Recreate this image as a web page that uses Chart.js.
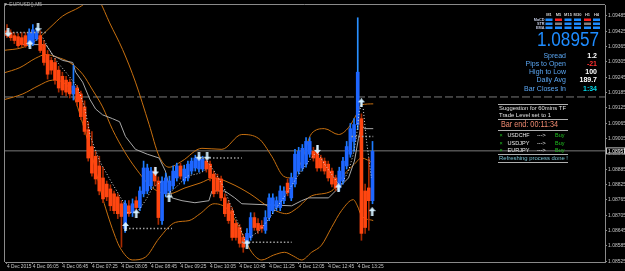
<!DOCTYPE html>
<html>
<head>
<meta charset="utf-8">
<title>EURUSD M5</title>
<script src="https://cdn.jsdelivr.net/npm/chart.js@4.4.1/dist/chart.umd.min.js"></script>
<style>
  html, body { margin: 0; padding: 0; background: #000; }
  #wrap { width: 625px; height: 271px; }
</style>
</head>
<body>
<div id="wrap"><canvas id="chart" width="625" height="271"></canvas></div>
<script>
// ── DATA ─────────────────────────────────────────────
// 100 M5 candles, 05:30 .. 13:45 (bar index = position on x axis)
const opens = [
  1.09427,1.09420,1.09408,1.09404,1.09400,1.09408,1.09373,1.09377,1.09396,1.09408,
  1.09373,1.09334,1.09311,1.09303,1.09273,1.09249,1.09234,1.09226,1.09180,1.09203,
  1.09180,1.09129,1.09040,1.08974,1.08936,1.08898,1.08851,1.08827,1.08808,1.08789,
  1.08777,1.08750,1.08653,1.08742,1.08715,1.08762,1.08735,1.08789,1.08800,1.08820,
  1.08878,1.08839,1.08684,1.08789,1.08800,1.08820,1.08851,1.08898,1.08839,1.08851,
  1.08878,1.08890,1.08886,1.08886,1.08917,1.08905,1.08866,1.08851,1.08847,1.08773,
  1.08750,1.08723,1.08673,1.08657,1.08618,1.08595,1.08618,1.08696,1.08673,1.08665,
  1.08646,1.08696,1.08723,1.08735,1.08735,1.08762,1.08831,1.08773,1.08827,1.08878,
  1.08890,1.08905,1.08944,1.08955,1.08955,1.08929,1.08917,1.08905,1.08878,1.08851,
  1.08812,1.08839,1.08898,1.08944,1.08994,1.09060,1.09083,1.08800,1.08812,1.08762
];
const highs = [
  1.09451,1.09431,1.09420,1.09416,1.09420,1.09420,1.09435,1.09451,1.09439,1.09427,
  1.09389,1.09350,1.09323,1.09319,1.09288,1.09265,1.09249,1.09238,1.09292,1.09214,
  1.09191,1.09153,1.09071,1.09033,1.08955,1.08936,1.08893,1.08839,1.08824,1.08800,
  1.08789,1.08762,1.08762,1.08762,1.08769,1.08777,1.08816,1.08917,1.08905,1.08893,
  1.08893,1.08855,1.08855,1.08870,1.08858,1.08898,1.08909,1.08909,1.08901,1.08917,
  1.08929,1.08940,1.08940,1.08936,1.08929,1.08917,1.08878,1.08866,1.08858,1.08789,
  1.08762,1.08735,1.08684,1.08669,1.08630,1.08653,1.08715,1.08715,1.08692,1.08684,
  1.08723,1.08789,1.08789,1.08777,1.08820,1.08816,1.08847,1.08870,1.08963,1.08971,
  1.08982,1.09009,1.09009,1.08971,1.08967,1.08940,1.08929,1.08917,1.08890,1.08862,
  1.08893,1.08932,1.08994,1.09064,1.09083,1.09478,1.09102,1.08827,1.08929,1.08994
];
const lows = [
  1.09400,1.09389,1.09377,1.09362,1.09365,1.09362,1.09365,1.09369,1.09389,1.09342,
  1.09292,1.09238,1.09257,1.09218,1.09187,1.09176,1.09172,1.09164,1.09156,1.09133,
  1.09079,1.09021,1.08917,1.08858,1.08827,1.08785,1.08754,1.08762,1.08723,1.08711,
  1.08692,1.08580,1.08638,1.08700,1.08700,1.08723,1.08723,1.08777,1.08789,1.08808,
  1.08820,1.08669,1.08669,1.08777,1.08789,1.08808,1.08839,1.08847,1.08827,1.08839,
  1.08866,1.08878,1.08874,1.08878,1.08874,1.08839,1.08777,1.08789,1.08762,1.08700,
  1.08673,1.08607,1.08607,1.08580,1.08560,1.08584,1.08607,1.08646,1.08634,1.08638,
  1.08634,1.08684,1.08711,1.08723,1.08723,1.08750,1.08781,1.08762,1.08816,1.08866,
  1.08878,1.08893,1.08932,1.08917,1.08878,1.08878,1.08866,1.08839,1.08816,1.08800,
  1.08800,1.08827,1.08886,1.08932,1.08955,1.09040,1.08607,1.08634,1.08646,1.08750
];
const closes = [
  1.09408,1.09400,1.09389,1.09369,1.09373,1.09369,1.09420,1.09431,1.09423,1.09350,
  1.09303,1.09257,1.09273,1.09234,1.09203,1.09195,1.09187,1.09180,1.09211,1.09149,
  1.09091,1.09033,1.08929,1.08870,1.08847,1.08800,1.08769,1.08777,1.08742,1.08723,
  1.08711,1.08700,1.08750,1.08711,1.08750,1.08735,1.08800,1.08890,1.08890,1.08878,
  1.08839,1.08696,1.08839,1.08851,1.08839,1.08878,1.08898,1.08858,1.08886,1.08905,
  1.08917,1.08929,1.08929,1.08925,1.08886,1.08851,1.08789,1.08800,1.08773,1.08711,
  1.08684,1.08618,1.08618,1.08595,1.08580,1.08634,1.08696,1.08657,1.08646,1.08653,
  1.08696,1.08773,1.08773,1.08762,1.08800,1.08800,1.08793,1.08851,1.08944,1.08955,
  1.08967,1.08994,1.08994,1.08929,1.08890,1.08890,1.08878,1.08851,1.08827,1.08812,
  1.08878,1.08917,1.08974,1.09044,1.09060,1.09265,1.08634,1.08657,1.08762,1.08955
];

// indicator lines, [bar index, price]
const upperBand = [[-1.1,1.09350],[4.3,1.09362],[7.8,1.09389],[11.6,1.09439],[15.1,1.09485],[19.7,1.09520],
  [21.8,1.09543],[23.5,1.09574],[25.1,1.09543],[27.8,1.09458],[31.3,1.09354],[34.8,1.09226],[38.5,1.09060],
  [41.2,1.08936],[43.9,1.08893],[47.4,1.08917],[52.8,1.08967],[58.2,1.08963],[63.6,1.09021],[68.2,1.09005],
  [71.7,1.08936],[74.9,1.08858],[77.1,1.08851],[79.8,1.08917],[82.5,1.09025],[86.0,1.09044],[89.8,1.09021],
  [92.5,1.09048],[94.6,1.09098],[96.0,1.09137],[99.2,1.09141]];
const middleBand = [[-1.1,1.09261],[3.5,1.09283],[7.8,1.09320],[10.5,1.09334],[13.7,1.09323],[17.0,1.09303],
  [20.5,1.09257],[23.2,1.09195],[25.9,1.09129],[28.6,1.09040],[31.8,1.08955],[34.8,1.08890],[39.4,1.08812],
  [43.9,1.08789],[48.2,1.08812],[52.3,1.08831],[56.1,1.08851],[60.4,1.08831],[65.8,1.08789],[71.2,1.08735],
  [75.7,1.08711],[78.4,1.08731],[82.5,1.08781],[87.9,1.08800],[91.4,1.08866],[94.1,1.08905],[96.0,1.08929],
  [99.2,1.08909]];
const lowerBand = [[-1.1,1.09156],[4.3,1.09180],[8.4,1.09211],[12.4,1.09234],[15.1,1.09226],[17.8,1.09180],
  [20.5,1.09064],[23.2,1.08929],[25.9,1.08773],[29.4,1.08618],[30.7,1.08576],[34.0,1.08530],[37.5,1.08541],
  [41.2,1.08615],[45.6,1.08677],[49.3,1.08684],[52.3,1.08711],[56.1,1.08750],[59.6,1.08731],[62.3,1.08673],
  [64.2,1.08618],[66.3,1.08560],[69.0,1.08530],[72.2,1.08549],[75.2,1.08560],[77.6,1.08545],[79.8,1.08530],
  [82.5,1.08560],[85.2,1.08588],[87.9,1.08657],[90.6,1.08723],[93.8,1.08766],[94.9,1.08742],[96.0,1.08704],
  [99.2,1.08684]];
const grayLine = [[4.3,1.09373],[10.5,1.09373],[11.6,1.09350],[12.4,1.09331],[15.1,1.09311],[17.8,1.09303],
  [18.6,1.09265],[20.5,1.09226],[22.4,1.09160],[24.0,1.09121],[25.9,1.09098],[28.6,1.09083],[30.5,1.09071],
  [32.1,1.09013],[34.8,1.08963],[38.0,1.08944],[41.2,1.08929],[42.9,1.08878],[44.7,1.08773],[47.4,1.08762],
  [50.9,1.08754],[54.7,1.08762],[55.5,1.08800],[59.0,1.08800],[61.7,1.08773],[63.6,1.08750],[77.1,1.08742],
  [79.8,1.08762],[81.7,1.08773],[87.1,1.08773],[89.8,1.08812],[92.5,1.08851],[94.1,1.08917],[95.2,1.09005],
  [96.0,1.09060],[96.8,1.09044],[99.2,1.09044]];
const sarSegments = [
  [[9.7,1.09400],[11.1,1.09362],[13.7,1.09303],[16.4,1.09257],[19.1,1.09207],[21.0,1.09129],[22.6,1.09013],
   [25.1,1.08917],[27.8,1.08847],[30.5,1.08781],[31.8,1.08750]],
  [[32.6,1.08715],[35.3,1.08719],[37.5,1.08762],[39.4,1.08812],[42.0,1.08839]],
  [[42.9,1.08781],[45.6,1.08812],[48.8,1.08858],[52.3,1.08870],[54.2,1.08886]],
  [[54.2,1.08917],[56.1,1.08878],[58.8,1.08812],[60.4,1.08750],[63.1,1.08657],[64.4,1.08607]],
  [[65.8,1.08618],[68.5,1.08646],[71.2,1.08696],[73.0,1.08735],[75.7,1.08789],[78.4,1.08851],[81.1,1.08905],[83.3,1.08944]],
  [[84.4,1.08944],[86.0,1.08905],[87.9,1.08866],[89.8,1.08827]],
  [[90.6,1.08827],[92.5,1.08878],[93.8,1.08944],[94.6,1.09005],[95.4,1.09110],[96.0,1.09137]],
  [[96.5,1.09121],[97.3,1.09005],[98.1,1.08917],[98.7,1.08851]]
];
const arrowsUp = [[6.2,1.09373],[32.1,1.08661],[35.0,1.08711],[43.9,1.08773],[65.0,1.08592],[89.8,1.08812],[96.0,1.09145],[98.9,1.08719]];
const arrowsDown = [[0.3,1.09420],[8.4,1.09439],[40.2,1.08878],[52.0,1.08936],[54.2,1.08936],[84.1,1.08963]];
// [from bar, to bar, price]
const levelMarks = [[-0.3,10.5,1.09420],[32.1,44.7,1.08653],[52.0,63.6,1.08929],[63.6,77.1,1.08599],[93.3,99.2,1.09013]];

const priceNow = 1.08957;
const dashLevel = 1.09168;

const xTickIdx = [0,7,15,23,31,39,47,55,63,71,79,87,95];
const xTickLabels = ['4 Dec 2015','4 Dec 06:05','4 Dec 06:45','4 Dec 07:25','4 Dec 08:05','4 Dec 08:45',
  '4 Dec 09:25','4 Dec 10:05','4 Dec 10:45','4 Dec 11:25','4 Dec 12:05','4 Dec 12:45','4 Dec 13:25'];
const yTicks = [1.08525,1.08585,1.08645,1.08705,1.08765,1.08825,1.08885,1.08945,1.09005,
  1.09065,1.09125,1.09185,1.09245,1.09305,1.09365,1.09425,1.09485];

// panel texts
const tfNames = ['M1','M5','M15','M30','H1','H4'];
const tfRows = ['MaCD','STR','EMA'];
const tfState = [['u','d','u','u','d','u'], ['u','n','u','u','n','u'], ['u','u','u','u','u','u']];
const infoLabels = ['Spread','Pips to Open','High to Low','Daily Avg','Bar Closes In'];
const infoValues = ['1.2','-21','100','189.7','1:34'];
const pairs = ['USDCHF','USDJPY','EURJPY'];
const pairSignals = ['Buy','Buy','Buy'];

// ── STYLE ────────────────────────────────────────────
const FONT = "'Liberation Sans', Arial, sans-serif";
const AXIS = '#8a8a8a';
const BULL = '#1e66ff', BEAR = '#ff4610';
const BULL_WICK = '#1e7cff', BEAR_WICK = '#a82a00';
const BAND = '#c8700f';

const pts = arr => arr.map(p => ({ x: p[0], y: p[1] }));

function arrowImg(up) {
  const c = document.createElement('canvas');
  c.width = 7; c.height = 9;
  const g = c.getContext('2d');
  g.fillStyle = '#d4f0ff';
  g.beginPath();
  const P = up
    ? [[3.5,0],[7,4],[4.7,4],[4.7,9],[2.3,9],[2.3,4],[0,4]]
    : [[3.5,9],[7,5],[4.7,5],[4.7,0],[2.3,0],[2.3,5],[0,5]];
  g.moveTo(P[0][0], P[0][1]);
  P.slice(1).forEach(p => g.lineTo(p[0], p[1]));
  g.closePath(); g.fill();
  return c;
}

const idx = opens.map((_, i) => i);
const wickData = idx.map(i => ({ x: i, y: [lows[i], highs[i]] }));
const bodyData = idx.map(i => ({ x: i, y: [opens[i], closes[i]] }));
const isBull = i => closes[i] >= opens[i];

const sarData = sarSegments.flatMap(s => [...pts(s), { x: s[s.length - 1][0] + 0.01, y: null }]);
const levelData = levelMarks.flatMap(l => [{ x: l[0], y: l[2] }, { x: l[1], y: l[2] }, { x: l[1] + 0.01, y: null }]);

const X_MIN = -0.54, X_MAX = 161.97;

// ── OVERLAY (frame, price box, info panel) ───────────
function txt(ctx, s, x, y, size, color, align, bold, w) {
  ctx.font = (bold ? 'bold ' : '') + size + 'px ' + FONT;
  ctx.fillStyle = color;
  ctx.textAlign = align || 'left';
  ctx.textBaseline = 'middle';
  if (w) {
    const m = ctx.measureText(s).width;
    ctx.save();
    ctx.translate(x, y);
    ctx.scale(w / m, 1);
    ctx.fillText(s, 0, 0);
    ctx.restore();
  } else {
    ctx.fillText(s, x, y);
  }
}

const overlay = {
  id: 'overlay',
  afterDraw(chart) {
    const { ctx, chartArea: a } = chart;
    ctx.save();
    ctx.strokeStyle = AXIS; ctx.lineWidth = 1;
    ctx.beginPath();
    ctx.moveTo(a.left - 0.5, a.bottom);
    ctx.lineTo(a.left - 0.5, a.top - 0.5);
    ctx.lineTo(a.right, a.top - 0.5);
    ctx.stroke();

    txt(ctx, '\u25BC EURUSD(),M5', 3, 5, 5, '#b0b0b0');

    // current price box on the axis
    const py = chart.scales.y.getPixelForValue(priceNow);
    ctx.fillStyle = '#000';
    ctx.fillRect(a.right + 1, py - 3.5, 19, 7);
    ctx.strokeStyle = '#c0c0c0';
    ctx.strokeRect(a.right + 1.5, py - 3, 18, 6);
    txt(ctx, priceNow.toFixed(5), a.right + 3, py + 0.3, 5, '#ffffff');

    // timeframe matrix
    const colX = [549, 558.5, 568, 577.5, 587.5, 596.5];
    tfNames.forEach((n, i) => txt(ctx, n, colX[i], 15, 4, '#d0d0d0', 'center', true));
    tfRows.forEach((r, j) => {
      txt(ctx, r, 544.5, 19.7 + j * 4, 3.8, '#c0c8e0', 'right', true);
      tfState[j].forEach((s, i) => {
        ctx.fillStyle = s === 'u' ? '#1e8cff' : s === 'd' ? '#ff2020' : '#808080';
        ctx.fillRect(colX[i] - 3.5, 18.5 + j * 4, 7, 2.5);
      });
    });

    txt(ctx, priceNow.toFixed(5), 537, 40, 20, '#1e8cff', 'left', false, 62);

    const rowY = [56, 64, 72, 80.5, 89];
    infoLabels.forEach((l, i) => txt(ctx, l, 566, rowY[i], 7, '#5aa6f2', 'right'));
    const valColor = ['#ffffff', '#ff3030', '#ffffff', '#ffffff', '#00d8e8'];
    infoValues.forEach((v, i) => txt(ctx, v, 597, rowY[i], 7, valColor[i], 'right', true));

    // suggestion box
    ctx.strokeStyle = '#b0b0b0';
    [104.5, 119.5, 130.5, 154.5, 162.5].forEach(y => {
      ctx.beginPath(); ctx.moveTo(498, y); ctx.lineTo(568, y); ctx.stroke();
    });
    txt(ctx, 'Suggestion for 60mins TF', 499, 108, 5.8, '#e0e0e0', 'left', false, 67);
    txt(ctx, 'Trade Level set to 1', 499, 115.5, 5.8, '#e0e0e0', 'left', false, 52);
    txt(ctx, 'Bar end: 00:11:34', 501, 125, 8.5, '#f08a70', 'left', false, 57);
    pairs.forEach((p, i) => {
      const y = 135.5 + i * 7.6;
      txt(ctx, '\u00D7', 501, y, 5.5, '#20c020', 'center');
      txt(ctx, p, 507.5, y, 5.5, '#e8e8e8', 'left', false, 22);
      txt(ctx, '--->', 537, y, 5.5, '#e8e8e8');
      txt(ctx, pairSignals[i], 555, y, 5.5, '#20c020');
    });
    txt(ctx, 'Refreshing process done !', 499, 158.5, 5.8, '#7cc4d4', 'left', false, 69);
    ctx.restore();
  }
};

// ── CHART ────────────────────────────────────────────
new Chart(document.getElementById('chart'), {
  type: 'bar',
  data: {
    datasets: [
      { type: 'line', data: [{ x: X_MIN, y: priceNow }, { x: X_MAX, y: priceNow }],
        borderColor: '#7a7a7a', borderWidth: 1, pointRadius: 0, order: 10 },
      { type: 'line', data: [{ x: X_MIN, y: dashLevel }, { x: X_MAX, y: dashLevel }],
        borderColor: '#7a7a7a', borderWidth: 1, borderDash: [8, 3], pointRadius: 0, order: 10 },
      { type: 'line', data: pts(upperBand), borderColor: BAND, borderWidth: 1, pointRadius: 0,
        cubicInterpolationMode: 'monotone', order: 8 },
      { type: 'line', data: pts(middleBand), borderColor: BAND, borderWidth: 1, pointRadius: 0,
        cubicInterpolationMode: 'monotone', order: 8 },
      { type: 'line', data: pts(lowerBand), borderColor: BAND, borderWidth: 1, pointRadius: 0,
        cubicInterpolationMode: 'monotone', order: 8 },
      { type: 'line', data: pts(grayLine), borderColor: '#a8a8a8', borderWidth: 1, pointRadius: 0,
        tension: 0, order: 7 },
      { type: 'bar', data: wickData, grouped: false, barThickness: 1, borderWidth: 0,
        backgroundColor: idx.map(i => i === 95 ? '#2a90ff' : (isBull(i) ? BULL_WICK : BEAR_WICK)), order: 6 },
      { type: 'bar', data: bodyData, grouped: false, barThickness: 3, borderWidth: 0,
        backgroundColor: idx.map(i => isBull(i) ? BULL : BEAR), order: 5 },
      { type: 'line', data: sarData, borderColor: '#d8d8d8', borderWidth: 1, borderDash: [1, 2],
        pointRadius: 0, tension: 0, order: 4 },
      { type: 'line', data: levelData, borderColor: '#a0a0a0', borderWidth: 1.5, borderDash: [1.5, 2],
        pointRadius: 0, order: 3 },
      { type: 'line', data: pts(arrowsUp), showLine: false, pointStyle: arrowImg(true), pointRadius: 4, order: 1 },
      { type: 'line', data: pts(arrowsDown), showLine: false, pointStyle: arrowImg(false), pointRadius: 4, order: 1 }
    ]
  },
  options: {
    responsive: false,
    animation: false,
    events: [],
    layout: { padding: { left: 2, top: 2, right: 0, bottom: 0 } },
    plugins: { legend: { display: false }, tooltip: { enabled: false } },
    scales: {
      x: {
        type: 'linear', min: X_MIN, max: X_MAX, offset: false,
        afterBuildTicks: s => { s.ticks = xTickIdx.map(v => ({ value: v })); },
        afterFit: s => { s.height = 9; },
        ticks: {
          autoSkip: false, maxRotation: 0, minRotation: 0, align: 'start', padding: 0,
          color: '#c4c4c4', font: { size: 4.8, family: FONT },
          callback: (v, i) => xTickLabels[i]
        },
        grid: { drawOnChartArea: false, tickLength: 2, color: AXIS, offset: false },
        border: { color: AXIS }
      },
      y: {
        position: 'right', min: 1.08522, max: 1.09528, beginAtZero: false,
        afterBuildTicks: s => { s.ticks = yTicks.map(v => ({ value: v })); },
        afterFit: s => { s.width = 20; },
        ticks: {
          padding: 1, color: '#c4c4c4', font: { size: 5, family: FONT },
          callback: v => v.toFixed(5)
        },
        grid: { drawOnChartArea: false, tickLength: 2, color: AXIS },
        border: { color: AXIS }
      }
    }
  },
  plugins: [overlay]
});
</script>
</body>
</html>
